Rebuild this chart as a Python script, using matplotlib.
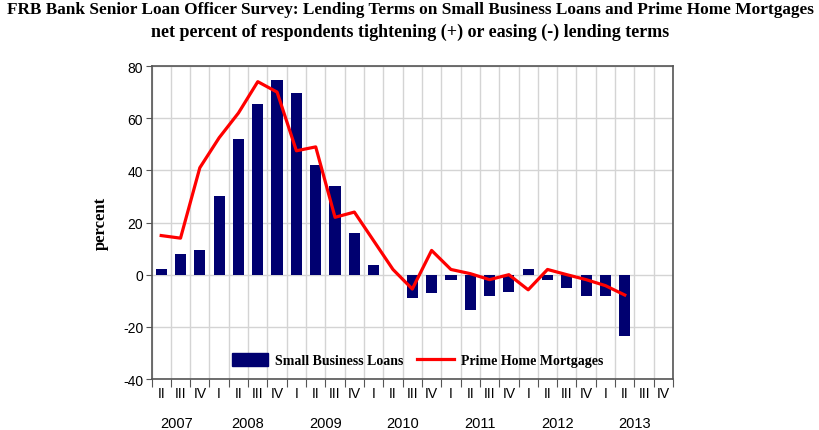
import numpy as np
import matplotlib
matplotlib.use('Agg')
import matplotlib.pyplot as plt
from matplotlib.patches import Patch
from matplotlib.lines import Line2D

# quarters 2007 Q2 .. 2013 Q4
quarters = ['II', 'III', 'IV'] + ['I', 'II', 'III', 'IV'] * 6
years = ['2007', '2008', '2009', '2010', '2011', '2012', '2013']
year_pos = [0.8, 4.5, 8.5, 12.5, 16.5, 20.5, 24.5]

small_business = [2, 8, 9.5, 30, 52, 65.5, 74.5, 69.5, 42, 34, 16, 3.6,
                  0, -9, -7, -2, -13.5, -8, -6.5, 2, -2, -5, -8, -8, -23.5,
                  np.nan, np.nan]
prime_mortgages = [15, 14, 41, 52.5, 62, 74, 70, 47.5, 49, 22, 24, 13,
                   2, -5.5, 9.3, 2, 0.4, -1.9, 0, -5.8, 2, 0, -1.9, -4.2, -7.8,
                   np.nan, np.nan]

serif = 'Liberation Serif'
sans = 'Liberation Sans'
plt.rcParams['axes.unicode_minus'] = False

fig = plt.figure(figsize=(8.2, 4.31), dpi=100)
ax = fig.add_axes([0.1848, 0.1183, 0.636, 0.7262])

x = np.arange(len(quarters))
ax.bar(x, small_business, width=0.58, color='#000070', zorder=3)
ax.plot(x, prime_mortgages, color='#ff0000', lw=2.3, zorder=4)

ax.set_xlim(-0.5, len(quarters) - 0.5)
ax.set_ylim(-40, 80)
ax.set_yticks(np.arange(-40, 81, 20))
ax.tick_params(axis='y', labelsize=10, length=4, color='#555555', pad=2)
for lbl in ax.get_yticklabels():
    lbl.set_family(sans)

# vertical grid at quarter boundaries, horizontal at y ticks
ax.set_xticks(np.arange(-0.5, len(quarters), 1.0))
ax.set_xticklabels([])
ax.tick_params(axis='x', length=6, color='#555555', direction='out')
ax.grid(True, color='#d4d4d4', lw=1, zorder=0)
ax.set_axisbelow(True)
for s in ax.spines.values():
    s.set_color('#555555')
    s.set_linewidth(1.2)

for i, q in enumerate(quarters):
    ax.text(i, -45.5, q, ha='center', va='center', fontsize=10,
            family=sans, clip_on=False)
for xp, yr in zip(year_pos, years):
    ax.text(xp, -57, yr, ha='center', va='center', fontsize=10.5,
            family=sans, clip_on=False)

ax.set_ylabel('percent', fontsize=12, fontweight='bold', family=serif,
              labelpad=10)

handles = [Patch(color='#000070'), Line2D([], [], color='#ff0000', lw=2.3)]
ax.legend(handles, ['Small Business Loans', 'Prime Home Mortgages'],
          loc='center', bbox_to_anchor=(0.51, 0.06), ncol=2, frameon=False,
          prop={'family': serif, 'weight': 'bold', 'size': 10},
          handlelength=2.6, handleheight=1.0, columnspacing=1.0,
          handletextpad=0.5)

fig.text(0.5, 0.977, 'FRB Bank Senior Loan Officer Survey: Lending Terms on Small Business Loans and Prime Home Mortgages',
         ha='center', va='center', fontsize=12.45, fontweight='bold', family=serif)
fig.text(0.5, 0.926, 'net percent of respondents tightening (+) or easing (-) lending terms',
         ha='center', va='center', fontsize=13, fontweight='bold', family=serif)

fig.savefig('out.png', dpi=100, facecolor='white')
